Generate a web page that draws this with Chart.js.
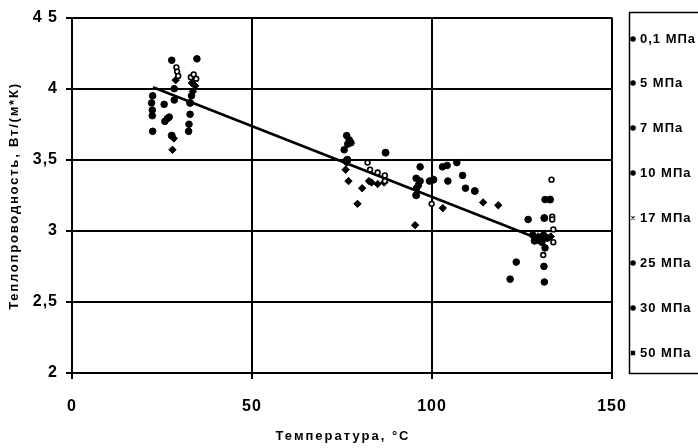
<!DOCTYPE html>
<html>
<head>
<meta charset="utf-8">
<script src="https://cdn.jsdelivr.net/npm/chart.js@4"></script>
<style>
  html, body { margin: 0; padding: 0; background: #fff; }
  #wrap { width: 698px; height: 448px; position: relative; }
</style>
</head>
<body>
<div id="wrap"><canvas id="chart" width="698" height="448"></canvas></div>
<script>
// ── данные ────────────────────────────────────────────────
const pressureLabels = ["0,1 МПа", "5 МПа", "7 МПа", "10 МПа", "17 МПа", "25 МПа", "30 МПа", "50 МПа"];

const t01 = [22.4, 27.7, 32.8, 76.3, 96.7, 106.9, 126.7, 131.2];
const k01 = [3.95, 4.20, 3.82, 3.67, 3.45, 3.48, 3.08, 2.64];

const t5 = [22.1, 25.6, 34.7, 77.0, 95.6, 102.9, 123.4, 131.4, 128.0];
const k5 = [3.90, 3.89, 4.21, 3.64, 3.37, 3.45, 2.78, 3.22, 2.97];

const t7 = [22.3, 25.8, 28.4, 32.5, 77.5, 96.7, 104.2, 121.7, 131.1, 129.0];
const k7 = [3.85, 3.77, 4.00, 3.75, 3.62, 3.35, 3.46, 2.66, 2.75, 2.95];

const t10 = [22.3, 26.5, 28.4, 32.4, 76.6, 96.2, 104.4, 108.5, 131.4, 130.0];
const k10 = [3.81, 3.79, 3.92, 3.70, 3.61, 3.32, 3.35, 3.39, 2.88, 2.93];

const t17 = [22.4, 27.0, 33.2, 75.6, 95.7, 99.3, 109.3, 130.5, 131.0];
const k17 = [3.70, 3.80, 3.95, 3.57, 3.30, 3.35, 3.30, 2.92, 2.97];

const t25 = [27.7, 32.8, 76.5, 87.1, 95.6, 100.4, 111.9, 131.2, 128.5, 132.8, 132.0];
const k25 = [3.67, 3.90, 3.50, 3.55, 3.25, 3.36, 3.28, 3.09, 2.93, 3.22, 2.95];

const t30 = [29.0, 29.2, 29.5, 33.0, 33.8, 34.5, 82.1, 82.8, 84.9, 86.9, 86.9, 99.9, 133.2, 133.4, 133.4, 133.7, 133.7, 130.9];
const k30 = [4.15, 4.12, 4.09, 4.08, 4.10, 4.07, 3.48, 3.43, 3.41, 3.39, 3.35, 3.19, 3.36, 3.10, 3.08, 3.01, 2.92, 2.83];

const t50 = [28.3, 27.9, 28.8, 33.3, 34.2, 33.6, 75.8, 76.0, 76.8, 76.3, 82.5, 83.2, 84.9, 86.7, 80.6, 79.3, 95.3, 103.0, 114.2, 118.4, 129.5, 131.5, 133.0];
const k50 = [3.65, 3.57, 4.06, 4.04, 4.02, 3.98, 3.49, 3.43, 3.35, 3.48, 3.35, 3.34, 3.33, 3.34, 3.30, 3.19, 3.04, 3.16, 3.20, 3.18, 2.96, 2.96, 2.96];

// линия тренда
const trendT = [22.5, 128];
const trendK = [4.01, 2.96];

const yTickLabels = { 2: "2", 2.5: "2,5", 3: "3", 3.5: "3,5", 4: "4", 4.5: "4 5" };
const xTickLabels = { 0: "0", 50: "50", 100: "100", 150: "150" };
const xTitle = "Температура, °С";
const yTitle = "Теплопроводность, Вт/(м*К)";

const FONT = "'Liberation Sans', Arial, sans-serif";

const toPts = (t, k) => t.map((x, i) => ({ x, y: k[i] }));

const seriesDefs = [
  { t: t01, k: k01, style: "circle", r: 3.3, fill: true },
  { t: t5, k: k5, style: "circle", r: 3.3, fill: true },
  { t: t7, k: k7, style: "circle", r: 3.3, fill: true },
  { t: t10, k: k10, style: "circle", r: 3.3, fill: true },
  { t: t17, k: k17, style: "circle", r: 3.3, fill: true },
  { t: t25, k: k25, style: "circle", r: 3.5, fill: true },
  { t: t30, k: k30, style: "circle", r: 2.4, fill: false },
  { t: t50, k: k50, style: "rectRot", r: 3.7, fill: true },
];

const datasets = seriesDefs.map((s, i) => ({
  label: pressureLabels[i],
  data: toPts(s.t, s.k),
  pointStyle: s.style,
  pointRadius: s.r,
  pointBorderWidth: s.fill ? 1 : 1.6,
  borderColor: "#000",
  backgroundColor: s.fill ? "#000" : "#fff",
  showLine: false,
}));

datasets.push({
  label: "trend",
  data: toPts(trendT, trendK),
  showLine: true,
  borderColor: "#000",
  borderWidth: 2.5,
  pointRadius: 0,
});

const legendMarks = ["circle", "circle", "circle", "circle", "crossRot", "circle", "circle", "rect"];

// ── разрядка текста как на скане ──────────────────────────
const spacing = {
  id: "spacing",
  beforeDraw(chart) { chart.ctx.letterSpacing = "1px"; },
};

// ── подписи осей и легенда в рамке справа ─────────────────
const decor = {
  id: "decor",
  afterDraw(chart) {
    const ctx = chart.ctx;
    ctx.save();
    ctx.fillStyle = "#000";
    ctx.textAlign = "center";
    ctx.textBaseline = "middle";
    ctx.font = "bold 13px " + FONT;
    ctx.letterSpacing = "2px";
    ctx.fillText(xTitle, 343, 436);
    ctx.save();
    ctx.translate(14, 196);
    ctx.rotate(-Math.PI / 2);
    ctx.font = "bold 13px " + FONT;
    ctx.letterSpacing = "1.8px";
    ctx.fillText(yTitle, 0, 0);
    ctx.restore();

    ctx.strokeStyle = "#000";
    ctx.lineWidth = 1.5;
    ctx.strokeRect(629.5, 12.5, 80, 361);
    ctx.font = "bold 13px " + FONT;
    ctx.letterSpacing = "1px";
    ctx.textAlign = "left";
    const ys = [39, 83, 128, 173, 218, 263, 308, 353];
    pressureLabels.forEach((lbl, i) => {
      ctx.fillStyle = "#000";
      ctx.strokeStyle = "#000";
      ctx.lineWidth = 1.2;
      Chart.helpers.drawPoint(ctx, { pointStyle: legendMarks[i], radius: 2.2, rotation: 0, borderWidth: 1.2 }, 633, ys[i]);
      ctx.fillText(lbl, 640, ys[i]);
    });
    ctx.restore();
  },
};

new Chart(document.getElementById("chart"), {
  type: "scatter",
  data: { datasets },
  plugins: [spacing, decor],
  options: {
    responsive: false,
    animation: false,
    events: [],
    layout: { padding: { left: 0, top: 16, right: 86, bottom: 0 } },
    plugins: { legend: { display: false }, tooltip: { enabled: false } },
    scales: {
      x: {
        type: "linear",
        min: 0,
        max: 150,
        afterFit: (s) => { s.height = 75; },
        afterBuildTicks: (s) => { s.ticks = Object.keys(xTickLabels).map((v) => ({ value: Number(v) })); },
        grid: { color: "#000", lineWidth: 2, tickLength: 6, tickColor: "#000" },
        border: { color: "#000", width: 2 },
        ticks: {
          color: "#000",
          font: { family: FONT, size: 16, weight: "bold" },
          padding: 18,
          maxRotation: 0,
          callback: (v) => xTickLabels[v],
        },
      },
      y: {
        min: 2,
        max: 4.5,
        afterFit: (s) => { s.width = 72; },
        afterBuildTicks: (s) => { s.ticks = Object.keys(yTickLabels).map((v) => ({ value: Number(v) })); },
        grid: { color: "#000", lineWidth: 2, tickLength: 6, tickColor: "#000" },
        border: { color: "#000", width: 2 },
        ticks: {
          color: "#000",
          font: { family: FONT, size: 16, weight: "bold" },
          padding: 8,
          callback: (v) => yTickLabels[v],
        },
      },
    },
  },
});
</script>
</body>
</html>
